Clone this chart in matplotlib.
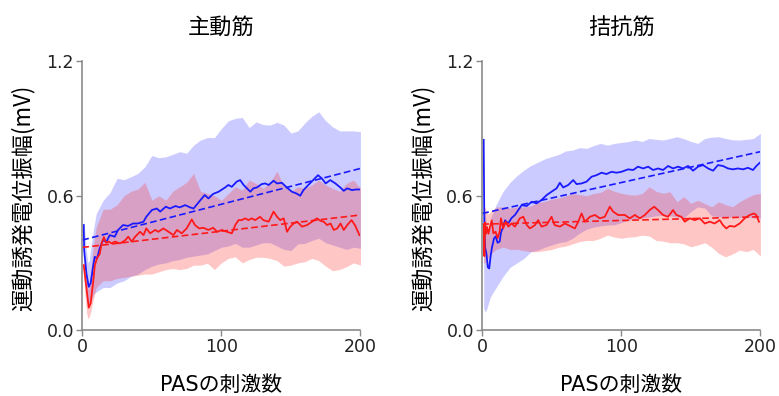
import matplotlib
matplotlib.use("Agg")
import matplotlib.pyplot as plt

plt.rcParams['font.family'] = ['DejaVu Sans', 'Noto Sans CJK JP']

panel_titles = ["主動筋", "拮抗筋"]
x_label = "PASの刺激数"
y_label = "運動誘発電位振幅(mV)"
y_ticks = [0.0, 0.6, 1.2]
x_ticks = [0, 100, 200]

# shared grid for the shaded bands
band_x = [1, 2, 3, 4, 5, 6, 8, 10, 15, 20, 25, 30, 35, 40, 45, 50, 55, 60, 65, 70,
          75, 80, 85, 90, 95, 100, 105, 110, 115, 120, 125, 130, 135, 140, 145, 150,
          155, 160, 165, 170, 175, 180, 185, 190, 195, 200]

# ---- 主動筋 (agonist) ----
ago_blue_x = [1, 1.3, 2.9, 4.6, 6.0, 7.7, 8.9, 10.6, 12.5, 14.9, 17.3, 19.7, 23.3, 25.7,
              29.3, 32.9, 36.5, 40, 44, 46, 50, 53.5, 56, 60, 63, 67, 70, 74, 77.5, 80,
              85, 88, 90.7, 94, 98, 102.7, 105, 107.5, 111, 113.5, 116, 118.4, 120.8,
              123, 125.5, 129, 131.5, 134, 137.5, 140, 143.5, 147, 150.7, 154, 156.7,
              159, 162.5, 166, 169.5, 172.3, 175, 178.3, 182, 185.5, 188, 190.5, 194,
              196.5, 200]
ago_blue_y = [0.469, 0.357, 0.253, 0.193, 0.21, 0.283, 0.327, 0.32, 0.365, 0.402, 0.394,
              0.424, 0.417, 0.447, 0.469, 0.465, 0.476, 0.476, 0.484, 0.506, 0.536, 0.543,
              0.529, 0.551, 0.543, 0.554, 0.548, 0.558, 0.548, 0.543, 0.581, 0.603, 0.588,
              0.608, 0.618, 0.637, 0.648, 0.640, 0.663, 0.67, 0.648, 0.633, 0.618, 0.633,
              0.637, 0.652, 0.655, 0.648, 0.667, 0.655, 0.658, 0.637, 0.618, 0.610, 0.600,
              0.625, 0.648, 0.67, 0.692, 0.677, 0.655, 0.67, 0.655, 0.637, 0.622, 0.633,
              0.625, 0.628, 0.628]
ago_red_x = [1, 2.9, 4.6, 6, 7.7, 9, 10.5, 12.5, 14, 15.5, 17, 19, 21, 23.5, 27, 30.7, 33,
             35.5, 38, 41.5, 44, 46, 48.8, 52.3, 54.7, 58.3, 62, 65.5, 68, 71.5, 75, 78.7,
             81, 84, 87, 90.7, 94, 97, 100.3, 104, 107.5, 110, 112.3, 114.7, 117, 119.5,
             121.8, 124.3, 127.8, 130.2, 134, 137.5, 140, 142.3, 144.8, 147.2, 149.6, 152,
             154.4, 158, 161.6, 165.2, 168.8, 171.2, 173.6, 176, 178.5, 180.8, 183.3,
             185.7, 188, 190.5, 193.6, 196, 199.3]
ago_red_y = [0.29, 0.19, 0.10, 0.12, 0.21, 0.29, 0.32, 0.34, 0.39, 0.415, 0.39, 0.395,
             0.387, 0.395, 0.387, 0.40, 0.417, 0.395, 0.417, 0.439, 0.424, 0.454, 0.432,
             0.447, 0.439, 0.454, 0.439, 0.424, 0.447, 0.432, 0.454, 0.494, 0.469, 0.454,
             0.457, 0.447, 0.457, 0.439, 0.447, 0.439, 0.432, 0.469, 0.491, 0.491, 0.499,
             0.491, 0.499, 0.491, 0.506, 0.491, 0.484, 0.529, 0.506, 0.491, 0.499, 0.439,
             0.462, 0.476, 0.484, 0.462, 0.469, 0.484, 0.499, 0.488, 0.484, 0.469, 0.476,
             0.447, 0.454, 0.476, 0.447, 0.469, 0.491, 0.469, 0.424]
ago_blue_hi = [0.50, 0.42, 0.35, 0.30, 0.31, 0.36, 0.45, 0.52, 0.58, 0.615, 0.678, 0.672,
               0.685, 0.70, 0.73, 0.78, 0.77, 0.774, 0.785, 0.797, 0.79, 0.826, 0.849,
               0.86, 0.86, 0.90, 0.935, 0.946, 0.95, 0.905, 0.93, 0.918, 0.916, 0.928,
               0.916, 0.88, 0.89, 0.925, 0.955, 0.975, 0.935, 0.908, 0.89, 0.89, 0.89,
               0.886]
ago_blue_lo = [0.43, 0.28, 0.18, 0.12, 0.10, 0.12, 0.16, 0.17, 0.19, 0.19, 0.21, 0.22,
               0.24, 0.25, 0.27, 0.285, 0.295, 0.30, 0.31, 0.315, 0.325, 0.33, 0.335,
               0.34, 0.355, 0.37, 0.375, 0.387, 0.37, 0.37, 0.38, 0.39, 0.39, 0.375, 0.36,
               0.355, 0.385, 0.387, 0.40, 0.41, 0.39, 0.38, 0.37, 0.36, 0.37, 0.365]
ago_red_hi = [0.34, 0.26, 0.22, 0.18, 0.20, 0.26, 0.38, 0.46, 0.54, 0.54, 0.56, 0.60,
              0.62, 0.63, 0.66, 0.58, 0.60, 0.58, 0.62, 0.64, 0.66, 0.70, 0.62, 0.61,
              0.60, 0.58, 0.61, 0.64, 0.625, 0.67, 0.655, 0.633, 0.66, 0.71, 0.64, 0.62,
              0.64, 0.633, 0.648, 0.67, 0.648, 0.633, 0.62, 0.655, 0.67, 0.633]
ago_red_lo = [0.24, 0.15, 0.08, 0.05, 0.06, 0.08, 0.14, 0.19, 0.22, 0.22, 0.23, 0.235,
              0.24, 0.245, 0.25, 0.25, 0.26, 0.27, 0.275, 0.27, 0.275, 0.29, 0.29, 0.298,
              0.27, 0.30, 0.32, 0.327, 0.30, 0.315, 0.325, 0.325, 0.32, 0.31, 0.285,
              0.29, 0.30, 0.305, 0.32, 0.31, 0.285, 0.265, 0.27, 0.283, 0.30, 0.29]
ago_blue_trend = [0.402, 0.722]  # value at x=0 and x=200
ago_red_trend = [0.369, 0.514]

# ---- 拮抗筋 (antagonist) ----
ant_blue_x = [1, 1.5, 2, 3, 4, 5, 6, 7, 8.5, 9.7, 11, 12.5, 13.5, 15, 16.4, 18.7, 21,
              23.5, 25.9, 28.3, 31.9, 35.5, 39, 42.6, 46.3, 49.8, 53.4, 55.8, 58.2, 61.8,
              65.4, 67.8, 71.4, 75, 78.6, 82.2, 85.8, 89.3, 92.9, 96.5, 100.1, 104.9,
              108.5, 112, 115.7, 119.3, 122.8, 126.4, 130, 133.6, 137.2, 140.8, 144.4,
              148, 151.6, 155.2, 158.8, 162.4, 166, 169.5, 173.1, 176.7, 180.3, 183.9,
              187.5, 191.1, 194.7, 197.1, 199.5]
ant_blue_y = [0.85, 0.45, 0.37, 0.34, 0.28, 0.275, 0.33, 0.37, 0.41, 0.418, 0.39, 0.395,
              0.437, 0.46, 0.49, 0.476, 0.50, 0.514, 0.536, 0.558, 0.554, 0.573, 0.566,
              0.581, 0.603, 0.618, 0.633, 0.658, 0.637, 0.648, 0.67, 0.652, 0.655, 0.663,
              0.685, 0.692, 0.703, 0.697, 0.707, 0.703, 0.707, 0.718, 0.715, 0.73, 0.722,
              0.73, 0.715, 0.722, 0.715, 0.733, 0.722, 0.73, 0.722, 0.733, 0.712, 0.73,
              0.737, 0.722, 0.712, 0.737, 0.733, 0.722, 0.718, 0.722, 0.718, 0.725, 0.715,
              0.733, 0.747]
ant_red_x = [1, 1.5, 2, 2.5, 3.4, 4.4, 5.5, 6.8, 8, 9.6, 11, 12.5, 13.4, 15, 16.8, 18.7,
             21, 23.5, 27, 29.5, 32, 34.3, 37.9, 40.2, 42.6, 46.2, 49.8, 52, 55.8, 59.4,
             63, 66.6, 69, 71.4, 73.8, 77.4, 81, 84.6, 88.1, 91.7, 94.1, 97.7, 102.5,
             106.1, 109.7, 113.3, 116.9, 120.4, 123.6, 126.4, 130, 133.6, 137.2, 139.6,
             143.2, 145.6, 149.2, 152.8, 156.4, 160, 163.6, 167.1, 170.7, 173.1, 175.5,
             177.9, 181.5, 185.1, 188.7, 192.3, 195.4, 197, 199]
ant_red_y = [0.47, 0.33, 0.48, 0.43, 0.46, 0.43, 0.46, 0.49, 0.432, 0.439, 0.41, 0.44,
             0.499, 0.454, 0.484, 0.462, 0.476, 0.462, 0.499, 0.506, 0.469, 0.454, 0.469,
             0.491, 0.462, 0.469, 0.506, 0.469, 0.462, 0.476, 0.465, 0.454, 0.484, 0.521,
             0.484, 0.506, 0.514, 0.499, 0.506, 0.551, 0.529, 0.514, 0.514, 0.499, 0.514,
             0.499, 0.514, 0.536, 0.551, 0.536, 0.514, 0.506, 0.536, 0.514, 0.506, 0.484,
             0.499, 0.491, 0.499, 0.476, 0.484, 0.476, 0.491, 0.469, 0.454, 0.465, 0.462,
             0.476, 0.499, 0.514, 0.521, 0.514, 0.484]
ant_blue_hi = [0.55, 0.52, 0.48, 0.45, 0.46, 0.50, 0.53, 0.56, 0.62, 0.66, 0.69, 0.715,
               0.735, 0.75, 0.765, 0.775, 0.785, 0.80, 0.804, 0.815, 0.812, 0.824, 0.834,
               0.826, 0.834, 0.838, 0.842, 0.849, 0.843, 0.856, 0.852, 0.849, 0.856,
               0.864, 0.855, 0.843, 0.834, 0.856, 0.862, 0.864, 0.856, 0.85, 0.849,
               0.852, 0.856, 0.879]
ant_blue_lo = [0.10, 0.08, 0.09, 0.11, 0.13, 0.15, 0.17, 0.19, 0.24, 0.28, 0.30, 0.32,
               0.35, 0.357, 0.37, 0.38, 0.39, 0.395, 0.41, 0.433, 0.45, 0.46, 0.465,
               0.469, 0.47, 0.48, 0.49, 0.495, 0.50, 0.505, 0.51, 0.514, 0.51, 0.505,
               0.50, 0.53, 0.55, 0.545, 0.51, 0.506, 0.503, 0.505, 0.502, 0.506, 0.50,
               0.499]
ant_red_hi = [0.55, 0.55, 0.53, 0.52, 0.52, 0.53, 0.54, 0.55, 0.55, 0.545, 0.55, 0.55,
              0.555, 0.57, 0.575, 0.585, 0.59, 0.60, 0.61, 0.605, 0.60, 0.61, 0.615,
              0.633, 0.62, 0.611, 0.605, 0.603, 0.61, 0.64, 0.62, 0.611, 0.618, 0.573,
              0.596, 0.566, 0.58, 0.565, 0.551, 0.573, 0.56, 0.551, 0.573, 0.59, 0.605,
              0.611]
ant_red_lo = [0.30, 0.30, 0.31, 0.32, 0.33, 0.34, 0.35, 0.36, 0.37, 0.36, 0.36, 0.355,
              0.35, 0.35, 0.355, 0.36, 0.37, 0.375, 0.385, 0.395, 0.40, 0.40, 0.41,
              0.424, 0.415, 0.41, 0.415, 0.417, 0.424, 0.42, 0.40, 0.397, 0.39, 0.39,
              0.385, 0.372, 0.38, 0.39, 0.37, 0.342, 0.327, 0.34, 0.357, 0.35, 0.36,
              0.33]
ant_blue_trend = [0.521, 0.797]
ant_red_trend = [0.473, 0.506]

panels = [
    (ago_blue_x, ago_blue_y, ago_red_x, ago_red_y, ago_blue_lo, ago_blue_hi,
     ago_red_lo, ago_red_hi, ago_blue_trend, ago_red_trend),
    (ant_blue_x, ant_blue_y, ant_red_x, ant_red_y, ant_blue_lo, ant_blue_hi,
     ant_red_lo, ant_red_hi, ant_blue_trend, ant_red_trend),
]

BLUE = '#1a1aff'
RED = '#ff1a1a'

fig = plt.figure(figsize=(7.79, 3.96), dpi=100)
ax_lefts = [0.1057, 0.6191]
label_x = [23 / 779, 423 / 779]

for i, (bx, by, rx, ry, blo, bhi, rlo, rhi, btr, rtr) in enumerate(panels):
    ax = fig.add_axes([ax_lefts[i], 0.1667, 0.3570, 0.678])
    ax.fill_between(band_x, blo, bhi, color='#3333ff', alpha=0.25, linewidth=0)
    ax.fill_between(band_x, rlo, rhi, color='#ff3333', alpha=0.28, linewidth=0)
    ax.plot(bx, by, color=BLUE, lw=1.3)
    ax.plot(rx, ry, color=RED, lw=1.3)
    ax.plot([0, 200], btr, color=BLUE, lw=1.2, ls=(0, (4, 2)))
    ax.plot([0, 200], rtr, color=RED, lw=1.2, ls=(0, (4, 2)))

    ax.set_xlim(0, 200)
    ax.set_ylim(0, 1.2)
    ax.set_xticks(x_ticks)
    ax.set_yticks(y_ticks)
    ax.set_yticklabels([f"{v:.1f}" for v in y_ticks])
    for side in ['top', 'right']:
        ax.spines[side].set_visible(False)
    for side in ['left', 'bottom']:
        ax.spines[side].set_color('#8a8a8a')
        ax.spines[side].set_linewidth(1.2)
    ax.tick_params(colors='#8a8a8a', labelcolor='#222222', labelsize=12.5,
                   length=4, width=1.0, pad=2)
    ax.set_title(panel_titles[i], fontsize=16, pad=20, family=['Noto Sans CJK JP'])

    # axis labels placed in figure coordinates
    cx = ax_lefts[i] + 0.3570 / 2
    fig.text(cx, 0.027, x_label, ha='center', va='center', fontsize=15,
             family=['DejaVu Sans', 'Noto Sans CJK JP'])
    fig.text(label_x[i], 0.501, y_label, rotation=90, ha='center', va='center',
             fontsize=16, family=['Noto Sans CJK JP'])

fig.savefig('out.png', dpi=100)
